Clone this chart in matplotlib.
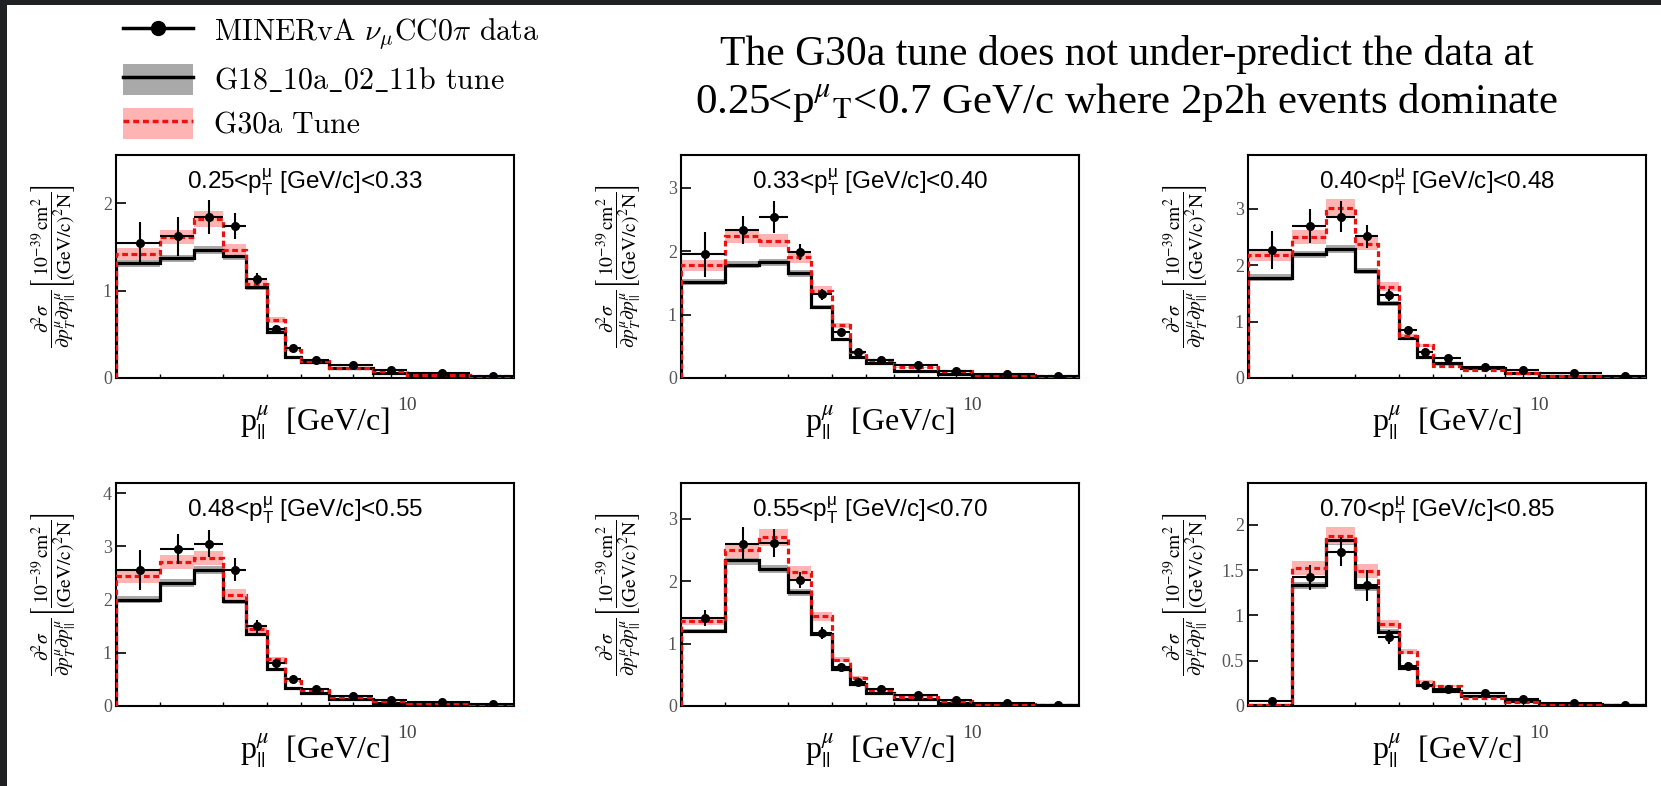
import numpy as np
import matplotlib
matplotlib.use('Agg')
import matplotlib.pyplot as plt
from matplotlib.patches import Patch, Rectangle
from matplotlib.lines import Line2D
from matplotlib.ticker import MultipleLocator, FixedLocator, NullFormatter, FormatStrFormatter

plt.rcParams['font.family'] = ['Liberation Serif', 'DejaVu Serif']

# p_|| bin edges [GeV/c]
edges = np.array([1.5, 2, 2.5, 3, 3.5, 4, 4.5, 5, 6, 8, 10, 15, 20])

# pT slices
pt_lo = ['0.25', '0.33', '0.40', '0.48', '0.55', '0.70']
pt_hi = ['0.33', '0.40', '0.48', '0.55', '0.70', '0.85']

# G18_10a_02_11b tune
g18_a = [1.31, 1.37, 1.46, 1.39, 1.04, 0.53, 0.24, 0.18, 0.11, 0.06, 0.03, 0.01]
g18_b = [1.52, 1.79, 1.83, 1.65, 1.12, 0.62, 0.33, 0.23, 0.11, 0.06, 0.03, 0.015]
g18_c = [1.78, 2.19, 2.28, 1.90, 1.32, 0.70, 0.38, 0.27, 0.17, 0.08, 0.035, 0.015]
g18_d = [2.00, 2.31, 2.55, 1.97, 1.36, 0.69, 0.34, 0.24, 0.14, 0.06, 0.03, 0.01]
g18_e = [1.20, 2.33, 2.19, 1.82, 1.15, 0.59, 0.35, 0.21, 0.12, 0.05, 0.02, 0.01]
g18_f = [0.01, 1.33, 1.83, 1.31, 0.82, 0.42, 0.23, 0.17, 0.11, 0.06, 0.02, 0.01]

# G30a tune
g30_a = [1.42, 1.61, 1.82, 1.46, 1.08, 0.66, 0.32, 0.19, 0.12, 0.08, 0.03, 0.02]
g30_b = [1.78, 2.24, 2.17, 1.91, 1.38, 0.83, 0.41, 0.28, 0.17, 0.11, 0.05, 0.025]
g30_c = [2.18, 2.49, 3.02, 2.38, 1.62, 0.74, 0.58, 0.22, 0.14, 0.09, 0.04, 0.02]
g30_d = [2.44, 2.70, 2.78, 2.09, 1.44, 0.88, 0.47, 0.31, 0.17, 0.10, 0.05, 0.02]
g30_e = [1.36, 2.49, 2.70, 2.14, 1.44, 0.74, 0.45, 0.26, 0.15, 0.08, 0.04, 0.02]
g30_f = [0.01, 1.52, 1.88, 1.49, 0.90, 0.60, 0.27, 0.22, 0.09, 0.04, 0.02, 0.01]

# MINERvA data and errors
data_a = [1.54, 1.62, 1.84, 1.74, 1.13, 0.56, 0.34, 0.21, 0.145, 0.088, 0.057, 0.02]
data_b = [1.95, 2.33, 2.54, 1.99, 1.32, 0.73, 0.41, 0.29, 0.20, 0.11, 0.06, 0.025]
data_c = [2.27, 2.69, 2.86, 2.51, 1.47, 0.85, 0.46, 0.36, 0.20, 0.14, 0.09, 0.04]
data_d = [2.56, 2.95, 3.05, 2.56, 1.50, 0.80, 0.50, 0.32, 0.19, 0.11, 0.07, 0.03]
data_e = [1.41, 2.60, 2.61, 2.02, 1.17, 0.63, 0.39, 0.28, 0.17, 0.10, 0.05, 0.02]
data_f = [0.055, 1.42, 1.70, 1.33, 0.76, 0.44, 0.23, 0.19, 0.14, 0.08, 0.03, 0.01]

err_a = [0.24, 0.22, 0.19, 0.15, 0.07, 0.05, 0.03, 0.02, 0.02, 0.015, 0.01, 0.01]
err_b = [0.35, 0.22, 0.25, 0.13, 0.09, 0.05, 0.03, 0.02, 0.02, 0.015, 0.01, 0.01]
err_c = [0.34, 0.30, 0.28, 0.20, 0.10, 0.06, 0.04, 0.03, 0.02, 0.02, 0.015, 0.01]
err_d = [0.38, 0.28, 0.25, 0.22, 0.12, 0.07, 0.05, 0.03, 0.02, 0.02, 0.015, 0.01]
err_e = [0.13, 0.27, 0.22, 0.13, 0.10, 0.05, 0.03, 0.03, 0.02, 0.015, 0.01, 0.01]
err_f = [0.02, 0.14, 0.16, 0.17, 0.08, 0.04, 0.03, 0.02, 0.02, 0.015, 0.01, 0.01]

# model band relative widths (estimated)
g18_band = 0.03
g30_band = 0.05

y_max = [2.55, 3.52, 3.95, 4.19, 3.57, 2.46]
y_step = [1, 1, 1, 1, 1, 0.5]

g18s = [g18_a, g18_b, g18_c, g18_d, g18_e, g18_f]
g30s = [g30_a, g30_b, g30_c, g30_d, g30_e, g30_f]
datas = [data_a, data_b, data_c, data_d, data_e, data_f]
errs = [err_a, err_b, err_c, err_d, err_e, err_f]

W, H = 1661, 786
fig = plt.figure(figsize=(W / 100, H / 100), dpi=100)

# dark slide border
fig.add_artist(Rectangle((0, 0), 7 / W, 1, transform=fig.transFigure, color='#202124', lw=0))
fig.add_artist(Rectangle((0, 1 - 5 / H), 1, 5 / H, transform=fig.transFigure, color='#202124', lw=0))

col_left = [116, 681, 1248]
row_top = [155, 483]
aw, ah = 398, 223

centers = 0.5 * (edges[:-1] + edges[1:])
xlo = centers - edges[:-1]
xhi = edges[1:] - centers

ylab = (r'$\dfrac{\partial^{2}\sigma}{\partial p^{\mu}_{T}\partial p^{\mu}_{||}}'
        r'\left[\dfrac{10^{-39}\,\mathrm{cm}^{2}}{(\mathrm{GeV/c})^{2}\mathrm{N}}\right]$')

for i in range(6):
    r, c = divmod(i, 3)
    ax = fig.add_axes([col_left[c] / W, 1 - (row_top[r] + ah) / H, aw / W, ah / H])
    ax.set_xscale('log')
    ax.set_xlim(1.5, 20)
    ax.set_ylim(0, y_max[i])

    g18 = np.array(g18s[i])
    g30 = np.array(g30s[i])
    d = np.array(datas[i])
    e = np.array(errs[i])

    ax.stairs(g18 * (1 + g18_band), edges, baseline=g18 * (1 - g18_band), fill=True,
              color='#a9a9a9', lw=0, zorder=1)
    ax.stairs(g30 * (1 + g30_band), edges, baseline=g30 * (1 - g30_band), fill=True,
              color='#ffb4b4', lw=0, zorder=2)
    ax.stairs(g18, edges, color='black', lw=2.3, zorder=3)
    ax.stairs(g30, edges, color='#ee1111', lw=2.3, ls=(0, (1.8, 1.1)), zorder=4)
    ax.errorbar(centers, d, yerr=e, xerr=[xlo, xhi], fmt='o', color='black', ms=5.5,
                elinewidth=1.5, capsize=0, zorder=5)

    for sp in ax.spines.values():
        sp.set_linewidth(1.5)

    ax.xaxis.set_major_locator(FixedLocator([10]))
    ax.xaxis.set_major_formatter(FormatStrFormatter('%d'))
    ax.xaxis.set_minor_locator(FixedLocator([2, 3, 4, 5, 6, 7, 8, 9]))
    ax.xaxis.set_minor_formatter(NullFormatter())
    ax.yaxis.set_major_locator(MultipleLocator(y_step[i]))
    ax.yaxis.set_major_formatter(FormatStrFormatter('%g'))
    ax.tick_params(axis='x', which='both', direction='in', length=3, width=1,
                   pad=14, labelsize=14, labelcolor='#444444')
    ax.tick_params(axis='y', direction='in', length=7, width=1.2, pad=3,
                   labelsize=13, labelcolor='#555555')

    ax.set_xlabel(r'p$^{\mu}_{||}$  [GeV/c]', fontsize=23, math_fontfamily='stix')
    ax.xaxis.set_label_coords(0.5, -0.2)
    ax.xaxis.label.set_va('center')
    ax.set_ylabel(ylab, fontsize=14, math_fontfamily='stix')
    ax.yaxis.set_label_coords(-0.157, 0.5)
    ax.yaxis.label.set_va('center')

    ax.text(0.475, 0.88,
            pt_lo[i] + r'<p$^{\mathregular{μ}}_{\mathregular{T}}$ [GeV/c]<' + pt_hi[i],
            transform=ax.transAxes, ha='center', va='center', fontsize=17.5,
            family='Liberation Sans', zorder=6)

# legend
h_data = Line2D([], [], color='black', marker='o', ms=10, lw=2.5)
h_g18 = (Patch(facecolor='#a9a9a9', lw=0), Line2D([], [], color='black', lw=2.5))
h_g30 = (Patch(facecolor='#ffb4b4', lw=0), Line2D([], [], color='#ee1111', lw=2.5, ls=(0, (1.7, 1.1))))
leg = fig.legend([h_data, h_g18, h_g30],
                 [r'MINERvA $\nu_{\mathrm{\mu}}$CC0$\pi$ data', r'G18$\_$10a$\_$02$\_$11b tune', 'G30a Tune'],
                 loc='upper left', bbox_to_anchor=(123 / W, 1 - 15 / H),
                 bbox_transform=fig.transFigure, frameon=False, borderpad=0,
                 borderaxespad=0, handlelength=2.35, handleheight=1.2,
                 labelspacing=0.42, handletextpad=0.7, numpoints=1,
                 prop={'family': ['cmr10', 'DejaVu Serif'], 'size': 21.5})
for t in leg.get_texts():
    t.set_math_fontfamily('cm')

fig.text(1127 / W, 1 - 55 / H, 'The G30a tune does not under-predict the data at',
         ha='center', va='center', fontsize=30, family='Liberation Serif')
fig.text(1127 / W, 1 - 103 / H,
         r'0.25<p$^{\mu}{}_{\mathrm{T}}$<0.7 GeV/c where 2p2h events dominate',
         ha='center', va='center', fontsize=31, family='Liberation Serif',
         math_fontfamily='stix')

fig.savefig('out.png', dpi=100)
